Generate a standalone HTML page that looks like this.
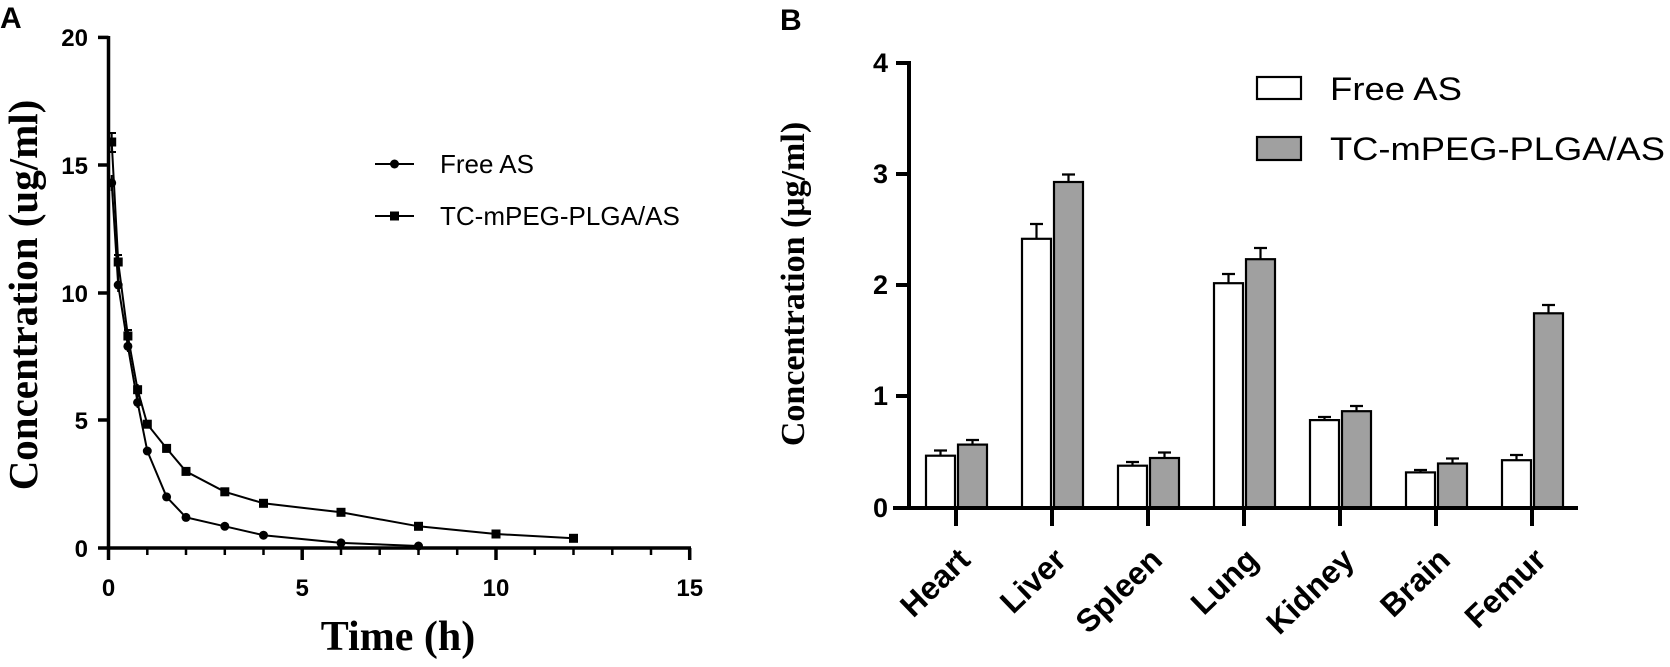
<!DOCTYPE html>
<html><head><meta charset="utf-8"><style>html,body{margin:0;padding:0;background:#fff}svg{display:block}</style></head>
<body>
<svg width="1670" height="667" viewBox="0 0 1670 667" xmlns="http://www.w3.org/2000/svg">
<g font-family="Liberation Sans, sans-serif" fill="#000">
<text x="0" y="28" font-size="30" font-weight="bold">A</text>
<text x="780" y="30" font-size="30" font-weight="bold">B</text>
</g>
<!-- Panel A -->
<g stroke="#000" stroke-width="3.5" fill="none">
<line x1="108.5" y1="36" x2="108.5" y2="549.5"/>
<line x1="107" y1="548" x2="691" y2="548"/>
<line x1="98" y1="37.4" x2="108.5" y2="37.4"/>
<line x1="98" y1="165" x2="108.5" y2="165"/>
<line x1="98" y1="293" x2="108.5" y2="293"/>
<line x1="98" y1="420" x2="108.5" y2="420"/>
<line x1="98" y1="548" x2="108.5" y2="548"/>
<line x1="108.5" y1="548" x2="108.5" y2="560"/>
<line x1="302.2" y1="548" x2="302.2" y2="560"/>
<line x1="496" y1="548" x2="496" y2="560"/>
<line x1="689.7" y1="548" x2="689.7" y2="560"/>
</g>
<g stroke="#000" stroke-width="2.5">
<line x1="147.3" y1="548" x2="147.3" y2="555"/><line x1="186" y1="548" x2="186" y2="555"/><line x1="224.8" y1="548" x2="224.8" y2="555"/><line x1="263.5" y1="548" x2="263.5" y2="555"/>
<line x1="341" y1="548" x2="341" y2="555"/><line x1="379.7" y1="548" x2="379.7" y2="555"/><line x1="418.5" y1="548" x2="418.5" y2="555"/><line x1="457.2" y1="548" x2="457.2" y2="555"/>
<line x1="534.8" y1="548" x2="534.8" y2="555"/><line x1="573.5" y1="548" x2="573.5" y2="555"/><line x1="612.3" y1="548" x2="612.3" y2="555"/><line x1="651" y1="548" x2="651" y2="555"/>
</g>
<g font-family="Liberation Sans, sans-serif" font-weight="bold" font-size="24" text-anchor="end">
<text x="88" y="46">20</text><text x="88" y="174">15</text><text x="88" y="302">10</text><text x="88" y="429">5</text><text x="88" y="557">0</text>
</g>
<g font-family="Liberation Sans, sans-serif" font-weight="bold" font-size="24" text-anchor="middle">
<text x="108.5" y="596">0</text><text x="302.2" y="596">5</text><text x="496" y="596">10</text><text x="689.7" y="596">15</text>
</g>
<text x="398" y="650" font-family="Liberation Serif, serif" font-weight="bold" font-size="42" text-anchor="middle">Time (h)</text>
<text transform="translate(37,295) rotate(-90)" font-family="Liberation Serif, serif" font-weight="bold" font-size="41" text-anchor="middle">Concentration (ug/ml)</text>
<g stroke="#000" stroke-width="2" fill="none">
<polyline points="111.7,182.9 118.2,285 127.9,346.3 137.6,402.5 147.3,451 166.6,496.9 186,517.4 224.8,526.3 263.5,535.2 341,542.9 418.5,546"/>
<polyline points="111.7,142 118.2,262 127.9,336 137.6,389.7 147.3,424.2 166.6,448.4 186,471.4 224.8,491.8 263.5,503.3 341,512.3 418.5,526.3 496,534 573.5,538.3"/>
<line x1="111.7" y1="133" x2="111.7" y2="152"/><line x1="108" y1="133" x2="116" y2="133"/><line x1="108" y1="152" x2="116" y2="152"/>
<line x1="111.7" y1="175" x2="111.7" y2="191"/>
<line x1="118.2" y1="255" x2="118.2" y2="292"/><line x1="114" y1="255" x2="122" y2="255"/>
<line x1="127.9" y1="330" x2="127.9" y2="352"/><line x1="124" y1="330" x2="132" y2="330"/>
<line x1="137.6" y1="384" x2="137.6" y2="408"/>
</g>
<g fill="#000">
<circle cx="111.7" cy="182.9" r="4.5"/><circle cx="118.2" cy="285" r="4.5"/><circle cx="127.9" cy="346.3" r="4.5"/><circle cx="137.6" cy="402.5" r="4.5"/><circle cx="147.3" cy="451" r="4.5"/><circle cx="166.6" cy="496.9" r="4.5"/><circle cx="186" cy="517.4" r="4.5"/><circle cx="224.8" cy="526.3" r="4.5"/><circle cx="263.5" cy="535.2" r="4.5"/><circle cx="341" cy="542.9" r="4.5"/><circle cx="418.5" cy="546" r="4.5"/>
<rect x="107.2" y="137.5" width="9" height="9"/><rect x="113.7" y="257.5" width="9" height="9"/><rect x="123.4" y="331.5" width="9" height="9"/><rect x="133.1" y="385.2" width="9" height="9"/><rect x="142.8" y="419.7" width="9" height="9"/><rect x="162.1" y="443.9" width="9" height="9"/><rect x="181.5" y="466.9" width="9" height="9"/><rect x="220.3" y="487.3" width="9" height="9"/><rect x="259" y="498.8" width="9" height="9"/><rect x="336.5" y="507.8" width="9" height="9"/><rect x="414" y="521.8" width="9" height="9"/><rect x="491.5" y="529.5" width="9" height="9"/><rect x="569" y="533.8" width="9" height="9"/>
</g>
<g stroke="#000" stroke-width="2"><line x1="375" y1="164" x2="414" y2="164"/><line x1="375" y1="216" x2="414" y2="216"/></g>
<circle cx="394.5" cy="164" r="4.5" fill="#000"/><rect x="390" y="211.5" width="9" height="9" fill="#000"/>
<g font-family="Liberation Sans, sans-serif" font-size="26"><text x="440" y="173">Free AS</text><text x="440" y="225">TC-mPEG-PLGA/AS</text></g>

<!-- Panel B -->
<g font-family="Liberation Sans, sans-serif" font-weight="bold" font-size="27" text-anchor="end">
<text x="888" y="72">4</text><text x="888" y="183">3</text><text x="888" y="294">2</text><text x="888" y="405">1</text><text x="888" y="517">0</text>
</g>
<text transform="translate(804,284) rotate(-90)" font-family="Liberation Serif, serif" font-weight="bold" font-size="34" text-anchor="middle">Concentration (μg/ml)</text>
<g stroke="#000" stroke-width="2.2">
<rect x="926" y="455.7" width="29" height="52.3" fill="#fff"/><rect x="958" y="444.6" width="29" height="63.4" fill="#a0a0a0"/>
<rect x="1022" y="238.8" width="29" height="269.2" fill="#fff"/><rect x="1054" y="182" width="29" height="326" fill="#a0a0a0"/>
<rect x="1118" y="465.7" width="29" height="42.3" fill="#fff"/><rect x="1150" y="458" width="29" height="50" fill="#a0a0a0"/>
<rect x="1214" y="283.2" width="29" height="224.8" fill="#fff"/><rect x="1246" y="259.2" width="29" height="248.8" fill="#a0a0a0"/>
<rect x="1310" y="420.1" width="29" height="87.9" fill="#fff"/><rect x="1342" y="411.2" width="29" height="96.8" fill="#a0a0a0"/>
<rect x="1406" y="472.4" width="29" height="35.6" fill="#fff"/><rect x="1438" y="463.5" width="29" height="44.5" fill="#a0a0a0"/>
<rect x="1502" y="460.2" width="29" height="47.8" fill="#fff"/><rect x="1534" y="313.3" width="29" height="194.7" fill="#a0a0a0"/>
</g>
<g stroke="#000" stroke-width="2.2" fill="none">
<path d="M940.5 455.7V450.5M934 450.5H947 M972.5 444.6V440M966 440H979"/>
<path d="M1036.5 238.8V224M1030 224H1043 M1068.5 182V174.5M1062 174.5H1075"/>
<path d="M1132.5 465.7V462M1126 462H1139 M1164.5 458V452.5M1158 452.5H1171"/>
<path d="M1228.5 283.2V274M1222 274H1235 M1260.5 259.2V248M1254 248H1267"/>
<path d="M1324.5 420.1V417M1318 417H1331 M1356.5 411.2V406M1350 406H1363"/>
<path d="M1420.5 472.4V470M1414 470H1427 M1452.5 463.5V458.5M1446 458.5H1459"/>
<path d="M1516.5 460.2V455M1510 455H1523 M1548.5 313.3V305M1542 305H1555"/>
</g>
<g stroke="#000" stroke-width="4" fill="none">
<line x1="909" y1="61" x2="909" y2="510"/>
<line x1="893" y1="508" x2="1578" y2="508"/>
<line x1="896" y1="63" x2="909" y2="63"/><line x1="896" y1="174" x2="909" y2="174"/><line x1="896" y1="285" x2="909" y2="285"/><line x1="896" y1="396" x2="909" y2="396"/>
<line x1="956" y1="508" x2="956" y2="526"/><line x1="1052" y1="508" x2="1052" y2="526"/><line x1="1148" y1="508" x2="1148" y2="526"/><line x1="1244" y1="508" x2="1244" y2="526"/><line x1="1340" y1="508" x2="1340" y2="526"/><line x1="1436" y1="508" x2="1436" y2="526"/><line x1="1532" y1="508" x2="1532" y2="526"/>
</g>
<g font-family="Liberation Sans, sans-serif" font-weight="bold" font-size="32" text-anchor="end">
<text transform="translate(972,562) rotate(-44)">Heart</text>
<text transform="translate(1068,562) rotate(-44)">Liver</text>
<text transform="translate(1164,562) rotate(-44)">Spleen</text>
<text transform="translate(1260,562) rotate(-44)">Lung</text>
<text transform="translate(1356,562) rotate(-44)">Kidney</text>
<text transform="translate(1452,562) rotate(-44)">Brain</text>
<text transform="translate(1548,562) rotate(-44)">Femur</text>
</g>
<rect x="1257" y="77" width="44" height="22" fill="#fff" stroke="#000" stroke-width="2.2"/>
<rect x="1257" y="137" width="44" height="23" fill="#a0a0a0" stroke="#000" stroke-width="2.2"/>
<g font-family="Liberation Sans, sans-serif" font-size="32">
<text x="1330" y="100" textLength="132" lengthAdjust="spacingAndGlyphs">Free AS</text>
<text x="1330" y="160" textLength="335" lengthAdjust="spacingAndGlyphs">TC-mPEG-PLGA/AS</text>
</g>
</svg>
</body></html>
